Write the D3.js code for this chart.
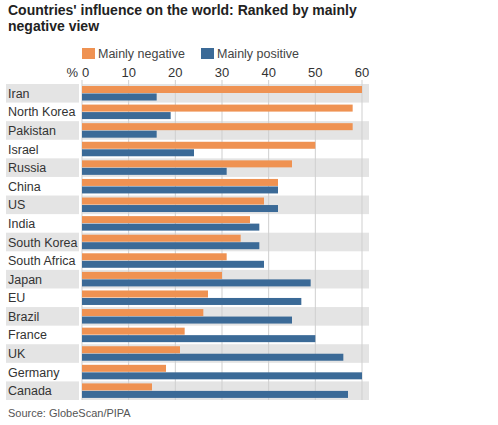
<!DOCTYPE html>
<html><head><meta charset="utf-8">
<script src="https://cdn.jsdelivr.net/npm/d3@7"></script>
<style>body{margin:0;background:#fff;font-family:"Liberation Sans",Arial,sans-serif;}</style>
</head><body><svg id="c" width="498" height="425"></svg>
<script>
const countries = ["Iran","North Korea","Pakistan","Israel","Russia","China","US","India","South Korea","South Africa","Japan","EU","Brazil","France","UK","Germany","Canada"];
const negative = [60,58,58,50,45,42,39,36,34,31,30,27,26,22,21,18,15];
const positive = [16,19,16,24,31,42,42,38,38,39,49,47,45,50,56,60,57];
const ticks = [0,10,20,30,40,50,60];
const seriesNames = ["Mainly negative","Mainly positive"];
const colors = ["#EF9252","#3B6A97"];

const svg = d3.select("#c");
const x = d3.scaleLinear().domain([0,60]).range([82,362]);
const y = d3.scaleBand().domain(countries).range([84,400]).padding(0);

svg.append("text").attr("x",8).attr("y",15).attr("font-size",14).attr("font-weight","bold").attr("fill","#222")
  .text("Countries' influence on the world: Ranked by mainly");
svg.append("text").attr("x",8).attr("y",31).attr("font-size",14).attr("font-weight","bold").attr("fill","#222")
  .text("negative view");

// legend
const lg = svg.append("g");
const lx = [82,201];
seriesNames.forEach((n,i)=>{
  lg.append("rect").attr("x",lx[i]).attr("y",48).attr("width",13).attr("height",11).attr("fill",colors[i]);
  lg.append("text").attr("x",lx[i]+16).attr("y",58).attr("font-size",12.5).attr("fill","#444").text(n);
});

// bands
countries.forEach((c,i)=>{
  if(i%2===0){
    svg.append("rect").attr("x",6).attr("y",y(c)).attr("width",73).attr("height",y.bandwidth()).attr("fill","#e4e4e4");
    svg.append("rect").attr("x",82).attr("y",y(c)).attr("width",287).attr("height",y.bandwidth()).attr("fill","#e4e4e4");
  }
});

// grid
svg.append("g").selectAll("line").data(ticks).join("line")
  .attr("x1",d=>x(d)).attr("x2",d=>x(d)).attr("y1",80).attr("y2",400)
  .attr("stroke","#cfcfcf").attr("stroke-width",1);

// tick labels
svg.append("g").selectAll("text").data(ticks).join("text")
  .attr("x",d=>x(d)).attr("y",77).attr("text-anchor",d=>d===0?"start":"middle")
  .attr("font-size",13).attr("fill","#333").text(d=>d);
svg.append("text").attr("x",78).attr("y",77).attr("text-anchor","end").attr("font-size",13).attr("fill","#333").text("%");

// bars
const bh = 7;
svg.append("g").selectAll("rect").data(countries).join("rect")
  .attr("x",x(0)).attr("y",c=>y(c)+2).attr("height",bh)
  .attr("width",(c,i)=>x(negative[i])-x(0)).attr("fill",colors[0]);
svg.append("g").selectAll("rect").data(countries).join("rect")
  .attr("x",x(0)).attr("y",c=>y(c)+9.5).attr("height",bh)
  .attr("width",(c,i)=>x(positive[i])-x(0)).attr("fill",colors[1]);

// labels
svg.append("g").selectAll("text").data(countries).join("text")
  .attr("x",8).attr("y",c=>y(c)+y.bandwidth()/2+4.5).attr("font-size",12.5).attr("fill","#333").text(c=>c);

svg.append("text").attr("x",8).attr("y",417).attr("font-size",11).attr("fill","#555").text("Source: GlobeScan/PIPA");
</script></body></html>
